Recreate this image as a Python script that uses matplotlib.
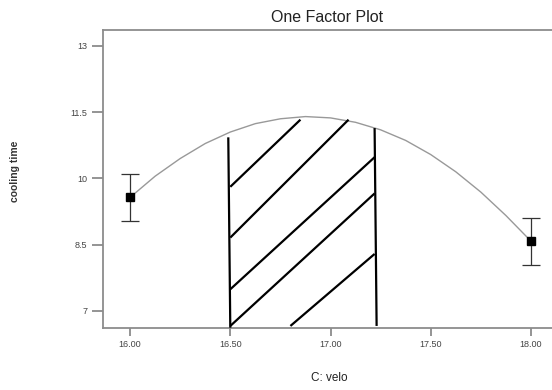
import matplotlib
matplotlib.use("Agg")
import matplotlib.pyplot as plt

plt.rcParams['font.family'] = ['Liberation Sans', 'DejaVu Sans']

# design points (mean +/- error)
x_pts = [16.0, 18.0]
y_pts = [9.57, 8.58]
y_err = [0.54, 0.53]

# model prediction curve
curve_x = [16.0, 16.125, 16.25, 16.375, 16.5, 16.625, 16.75, 16.875, 17.0,
           17.125, 17.25, 17.375, 17.5, 17.625, 17.75, 17.875, 18.0]
curve_y = [9.57, 10.05, 10.45, 10.79, 11.05, 11.24, 11.35, 11.40, 11.37,
           11.27, 11.10, 10.86, 10.54, 10.15, 9.69, 9.16, 8.58]

# hand drawn hatch marking the region (x0, y0, x1, y1)
hatch_segments = [
    (16.49, 10.93, 16.50, 6.62),
    (17.22, 11.14, 17.23, 6.66),
    (16.50, 9.81, 16.85, 11.33),
    (16.50, 8.66, 17.09, 11.33),
    (16.50, 7.49, 17.22, 10.48),
    (16.50, 6.66, 17.22, 9.66),
    (16.80, 6.66, 17.22, 8.29),
]

x_ticks = [16.0, 16.5, 17.0, 17.5, 18.0]
x_tick_labels = ['16.00', '16.50', '17.00', '17.50', '18.00']
y_ticks = [7, 8.5, 10, 11.5, 13]
y_tick_labels = ['7', '8.5', '10', '11.5', '13']

fig = plt.figure(figsize=(5.52, 3.9), dpi=100)
ax = fig.add_axes([0.1866, 0.1597, 0.8134, 0.7634])

ax.plot(curve_x, curve_y, color='#999999', lw=1.0, zorder=2)
ax.errorbar(x_pts, y_pts, yerr=y_err, fmt='s', color='black', ms=6,
            ecolor='#333333', elinewidth=0.9, capsize=6.5, capthick=0.9, zorder=3)

for x0, y0, x1, y1 in hatch_segments:
    ax.plot([x0, x1], [y0, y1], color='black', lw=1.6, solid_capstyle='butt', zorder=4)

ax.set_xlim(15.865, 18.105)
ax.set_ylim(6.62, 13.36)

ax.set_xticks(x_ticks)
ax.set_xticklabels(x_tick_labels)
ax.set_yticks(y_ticks)
ax.set_yticklabels(y_tick_labels)

ax.tick_params(axis='y', length=8, width=1.1, color='#777777', pad=3.5,
               labelsize=6.5, labelcolor='#444444')
ax.tick_params(axis='x', length=5.5, width=1.1, color='#777777', pad=3,
               labelsize=6.5, labelcolor='#444444')

for side in ['left', 'bottom', 'top']:
    ax.spines[side].set_color('#8c8c8c')
    ax.spines[side].set_linewidth(1.3)
ax.spines['right'].set_visible(False)

ax.set_title('One Factor Plot', fontsize=11.5, color='#222222', pad=6)
fig.text(329 / 552, 1 - 378 / 390, 'C: velo', ha='center', va='center',
         fontsize=8.5, color='#222222')
fig.text(15 / 552, 1 - 171 / 390, 'cooling time', ha='center', va='center',
         rotation=90, fontsize=7.5, fontweight='bold', color='#333333')

fig.savefig('out.png', dpi=100)
